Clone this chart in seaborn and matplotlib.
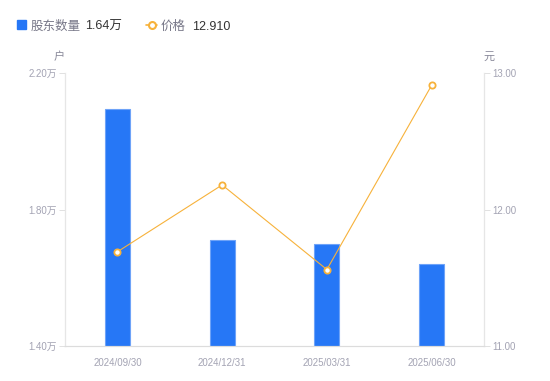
import pandas as pd
import numpy as np
import matplotlib.pyplot as plt
import seaborn as sns
from matplotlib.lines import Line2D
from matplotlib.patches import Rectangle

# 数据
dates = ['2024/09/30', '2024/12/31', '2025/03/31', '2025/06/30']
holders = [2.094, 1.71, 1.70, 1.64]      # 股东数量（万户）
price = [11.69, 12.18, 11.56, 12.91]     # 价格（元）
left_ticks = [1.40, 1.80, 2.20]
right_ticks = [11.00, 12.00, 13.00]

df = pd.DataFrame({'date': dates, 'holders': holders, 'price': price})

BLUE = '#2677f6'
ORANGE = '#f7b23b'
GRAY = '#a3a3b3'
DARK = '#333333'

sns.set_style('white')
plt.rcParams['font.family'] = ['Liberation Sans', 'Noto Sans CJK SC', 'DejaVu Sans']

fig = plt.figure(figsize=(5.5, 3.81), dpi=100)
ax = fig.add_axes([65 / 550, 1 - 346 / 381, 419 / 550, 273 / 381])

sns.barplot(data=df, x='date', y='holders', color=BLUE, width=0.24,
            edgecolor='#6ea3f8', linewidth=0.8, saturation=1, ax=ax)
ax.set_ylim(1.40, 2.20)
ax.set_xlim(-0.5, 3.5)
ax.set_yticks(left_ticks)
ax.set_yticklabels([f'{t:.2f}万' for t in left_ticks])
ax.set_xlabel('')
ax.set_ylabel('')

ax2 = ax.twinx()
sns.lineplot(x=np.arange(len(dates)), y=df['price'], color=ORANGE, linewidth=0.8,
             marker='o', markersize=4.5, markerfacecolor='white',
             markeredgecolor=ORANGE, markeredgewidth=1.3, ax=ax2)
ax2.set_ylim(11.0, 13.0)
ax2.set_yticks(right_ticks)
ax2.set_yticklabels([f'{t:.2f}' for t in right_ticks])
ax2.set_ylabel('')
ax2.set_xlim(-0.5, 3.5)

for a in (ax, ax2):
    a.spines['top'].set_visible(False)
    a.spines['left'].set_color('#e6e6e6')
    a.spines['right'].set_color('#e6e6e6')
    a.spines['bottom'].set_color('#dcdcdc')
    for s in ('left', 'right', 'bottom'):
        a.spines[s].set_linewidth(0.8)

ax.tick_params(axis='y', left=True, length=4, width=0.6, color='#dcdcdc',
               labelsize=7, labelcolor=GRAY, pad=2)
ax.tick_params(axis='x', bottom=False, labelsize=7, labelcolor=GRAY, pad=5)
ax2.tick_params(axis='y', right=True, length=4, width=0.6, color='#dcdcdc',
                labelsize=7, labelcolor=GRAY, pad=2)

# 单位
fig.text(59 / 550, 1 - 57 / 381, '户', fontsize=8, color='#888899',
         ha='center', va='center')
fig.text(489 / 550, 1 - 57 / 381, '元', fontsize=8, color='#888899',
         ha='center', va='center')

# 图例
ly = 1 - 24.5 / 381
ty = 1 - 26.5 / 381
fig.patches.append(Rectangle((17 / 550, 1 - 29 / 381), 9 / 550, 9 / 381,
                             transform=fig.transFigure, color=BLUE, figure=fig))
fig.text(31 / 550, ty, '股东数量', fontsize=9, color='#777788', va='center')
fig.text(85 / 550, ty, '1.64万', fontsize=9, color=DARK, va='center')
fig.lines.append(Line2D([146 / 550, 157 / 550], [ly, ly], transform=fig.transFigure,
                        color=ORANGE, linewidth=1.2, figure=fig))
fig.lines.append(Line2D([151.5 / 550], [ly], transform=fig.transFigure,
                        color=ORANGE, marker='o', markersize=5, markerfacecolor='white',
                        markeredgewidth=1.5, linestyle='none', figure=fig))
fig.text(161 / 550, ty, '价格', fontsize=9, color='#777788', va='center')
fig.text(192 / 550, ty, '12.910', fontsize=9, color=DARK, va='center')

fig.savefig('out.png', dpi=100)
